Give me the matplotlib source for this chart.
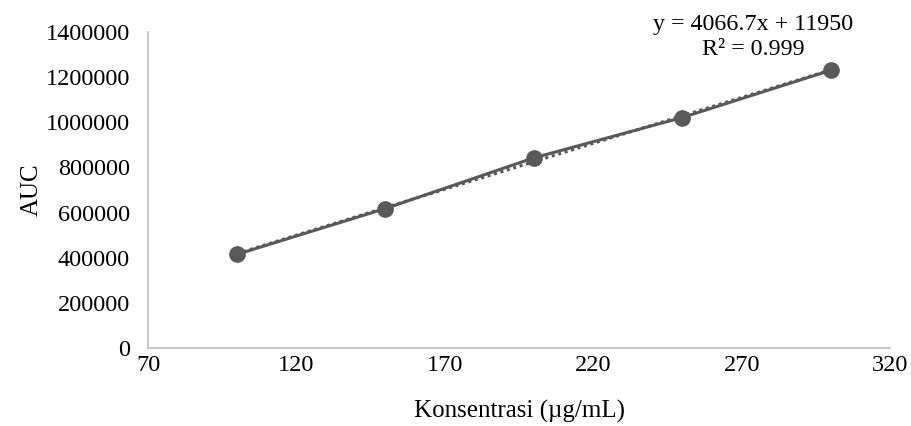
import numpy as np
import matplotlib.pyplot as plt

plt.rcParams['font.family'] = ['Liberation Serif', 'DejaVu Serif']

# ===== data =====
konsentrasi = [100, 150, 200, 250, 300]
auc = [415000, 618000, 842450, 1021000, 1230000]
x_ticks = [70, 120, 170, 220, 270, 320]
y_ticks = [0, 200000, 400000, 600000, 800000, 1000000, 1200000, 1400000]
eq_text = "y = 4066.7x + 11950\nR² = 0.999"

GRAY = "#595959"

fig = plt.figure(figsize=(9.11, 4.26), dpi=100)
ax = fig.add_axes([0.1625, 0.183, 0.8145, 0.742])

# linear trendline (dotted)
coef = np.polyfit(konsentrasi, auc, 1)
xx = np.array([konsentrasi[0], konsentrasi[-1]])
ax.plot(xx, np.polyval(coef, xx), linestyle=(0, (1, 1.2)), color=GRAY, lw=2.2, zorder=2)

ax.plot(konsentrasi, auc, color=GRAY, lw=2.2, marker="o", markersize=11, zorder=3)

ax.set_xlim(70, 320)
ax.set_ylim(0, 1400000)
ax.set_xticks(x_ticks)
ax.set_yticks(y_ticks)
ax.set_xticklabels([str(v) for v in x_ticks])
ax.set_yticklabels([str(v) for v in y_ticks])
ax.tick_params(length=0, labelsize=17.5)
ax.tick_params(axis="y", pad=13)
ax.tick_params(axis="x", pad=5)

for s in ["top", "right"]:
    ax.spines[s].set_visible(False)
for s in ["left", "bottom"]:
    ax.spines[s].set_color("#bfbfbf")
    ax.spines[s].set_linewidth(1.2)

ax.set_xlabel("Konsentrasi (µg/mL)", fontsize=18, labelpad=17)
ax.set_ylabel("AUC", fontsize=18, labelpad=2)

ax.text(0.827, 0.968, eq_text, transform=fig.transFigure, ha="center", va="top",
        fontsize=17.3, linespacing=1.28)

fig.savefig("out.png", dpi=100)
